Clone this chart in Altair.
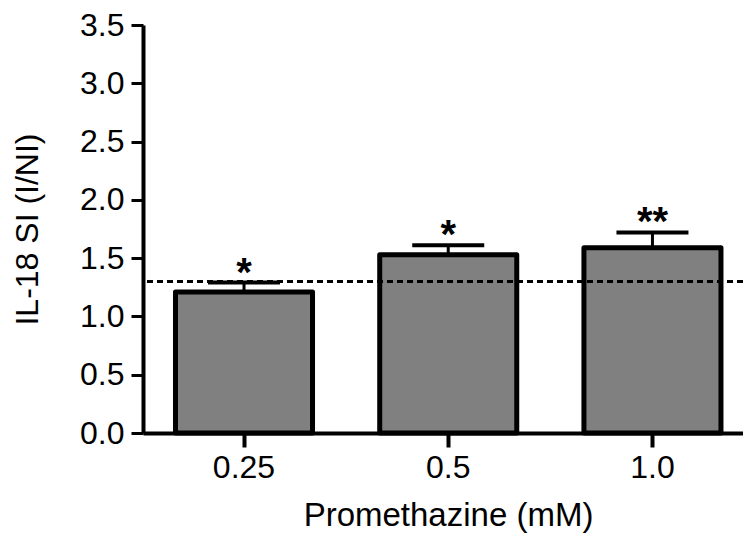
import altair as alt
import pandas as pd

categories = ["0.25", "0.5", "1.0"]
means = [1.21, 1.53, 1.59]
err_tops = [1.29, 1.61, 1.72]
stars = ["*", "*", "**"]
threshold = 1.30
y_ticks = [0.0, 0.5, 1.0, 1.5, 2.0, 2.5, 3.0, 3.5]

df = pd.DataFrame({"cat": categories, "mean": means, "err": err_tops, "star": stars})

FONT = "Liberation Sans"

x_enc = alt.X(
    "cat:N",
    sort=categories,
    scale=alt.Scale(paddingInner=0.329, paddingOuter=0.1335, align=0.596),
    axis=alt.Axis(
        title="Promethazine (mM)",
        labelAngle=0,
        labelFont=FONT,
        labelFontSize=32,
        labelColor="black",
        labelPadding=5,
        titleFont=FONT,
        titleFontSize=33,
        titleFontWeight="normal",
        titleColor="black",
        titlePadding=16,
        titleX=305,
        domainColor="black",
        domainWidth=4,
        tickColor="black",
        tickWidth=4,
        tickSize=14,
        grid=False,
    ),
)

y_scale = alt.Scale(domain=[0, 3.5], nice=False)

bars = alt.Chart(df).mark_bar(
    fill="#808080", stroke="black", strokeWidth=5, strokeJoin="round"
).encode(
    x=x_enc,
    y=alt.Y(
        "mean:Q",
        scale=y_scale,
        axis=alt.Axis(
            title="IL-18 SI (I/NI)",
            values=y_ticks,
            format=".1f",
            labelFont=FONT,
            labelFontSize=32,
            labelColor="black",
            labelPadding=7,
            titleFont=FONT,
            titleFontSize=32,
            titleFontWeight="normal",
            titleColor="black",
            titlePadding=35,
            domainColor="black",
            domainWidth=4,
            tickColor="black",
            tickWidth=3,
            tickSize=12,
            grid=False,
        ),
    ),
)

err_line = alt.Chart(df).mark_rule(color="black", strokeWidth=3).encode(
    x=alt.X("cat:N", sort=categories),
    y=alt.Y("mean:Q", scale=y_scale),
    y2="err:Q",
)

caps = alt.Chart(df).mark_tick(
    color="black", thickness=4, size=72, orient="horizontal", opacity=1
).encode(
    x=alt.X("cat:N", sort=categories),
    y=alt.Y("err:Q", scale=y_scale),
)

star_text = alt.Chart(df).mark_text(
    font=FONT, fontSize=40, fontWeight="bold", color="black", baseline="alphabetic", dy=3
).encode(
    x=alt.X("cat:N", sort=categories),
    y=alt.Y("err:Q", scale=y_scale),
    text="star:N",
)

thr = alt.Chart(pd.DataFrame({"t": [threshold]})).mark_rule(
    color="black", strokeWidth=3, strokeDash=[6, 4]
).encode(y=alt.Y("t:Q", scale=y_scale))

chart = (
    alt.layer(bars, err_line, caps, thr, star_text,
              view=alt.ViewBackground(strokeOpacity=0, strokeWidth=0, stroke="white"))
    .properties(
        width=600,
        height=408,
        autosize=alt.AutoSizeParams(type="none"),
        padding={"left": 135, "top": 17, "right": 0, "bottom": 100},
    )
    .configure_view(stroke="white", strokeWidth=0, strokeOpacity=0)
    .configure_axis(grid=False)
    .configure(background="white")
)

chart.save("out.html", embed_options={"renderer": "svg", "actions": False})
